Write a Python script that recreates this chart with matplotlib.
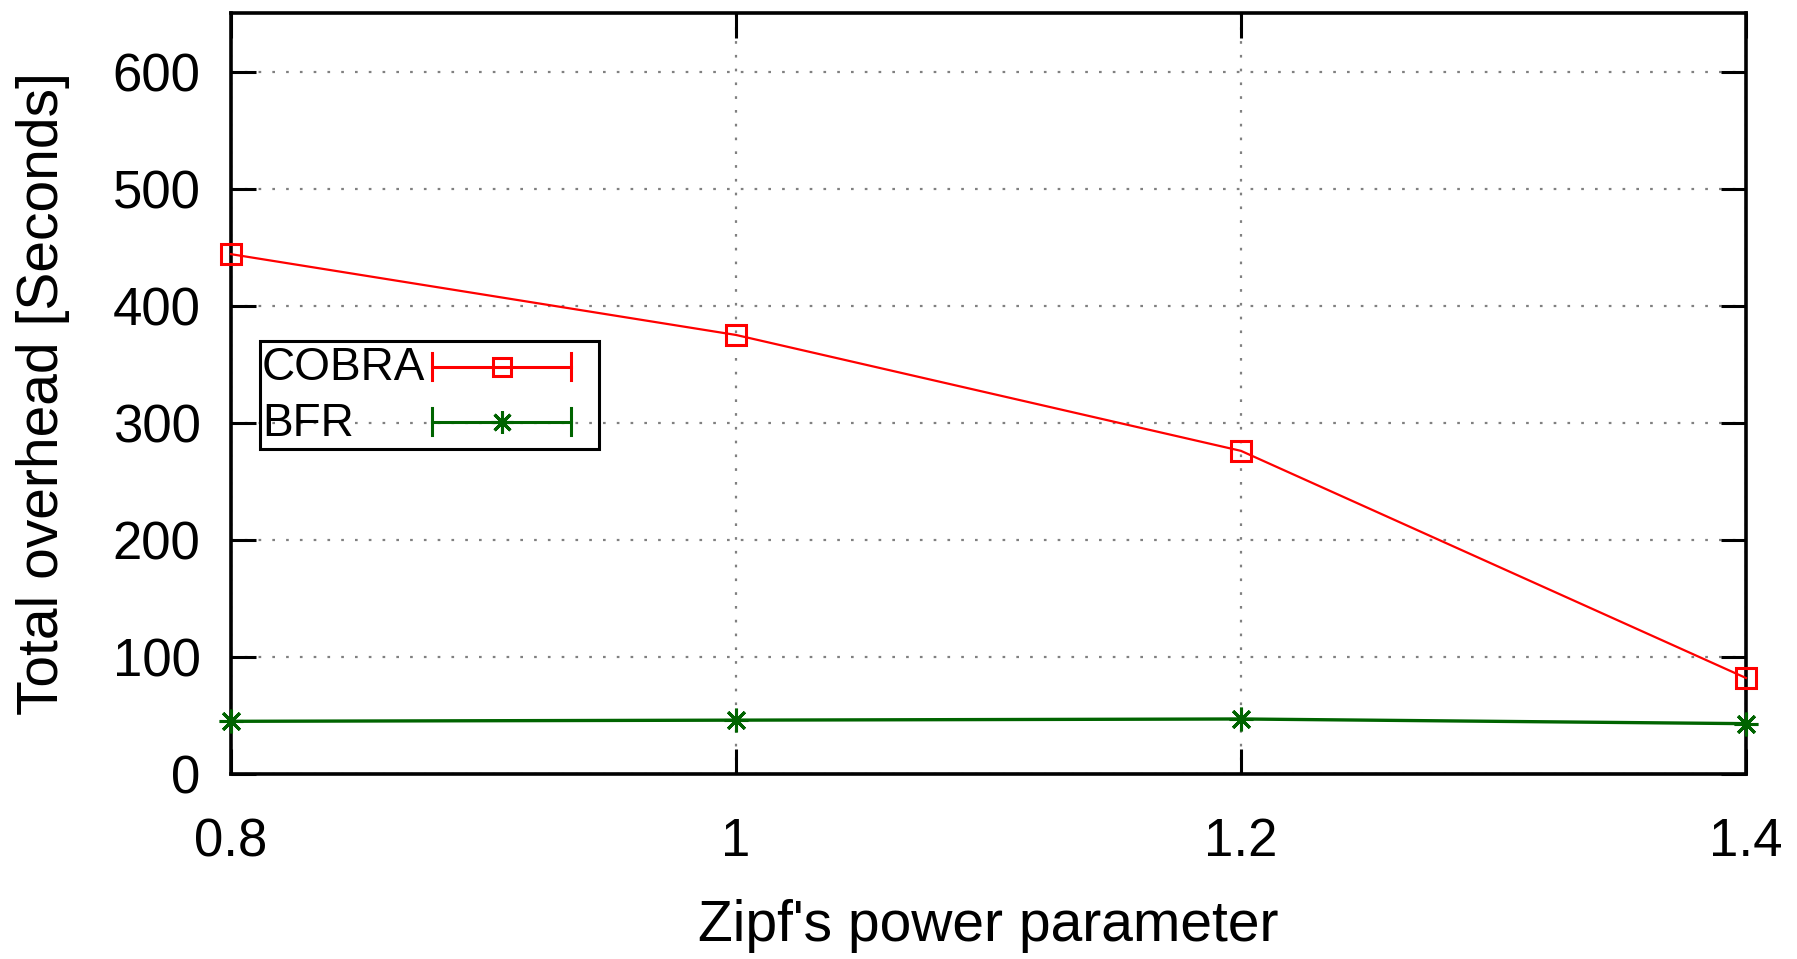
import matplotlib
matplotlib.use("Agg")
import matplotlib.pyplot as plt
from matplotlib.lines import Line2D
from matplotlib.patches import Rectangle

zipf = [0.8, 1.0, 1.2, 1.4]
cobra = [444, 375, 276, 82]
bfr = [45, 46, 47, 43]
xtick_labels = ["0.8", "1", "1.2", "1.4"]
yticks = [0, 100, 200, 300, 400, 500, 600]
series_names = ["COBRA", "BFR"]

plt.rcParams['font.family'] = ['Liberation Sans', 'DejaVu Sans']

W, H = 1797, 959
fig = plt.figure(figsize=(W / 100, H / 100), dpi=100)
ax = fig.add_axes([231 / W, 1 - 774 / H, (1746 - 231) / W, (774 - 13) / H])

red = '#ff0000'
green = '#006400'
sq = 's'
star = (8, 2, 0)

ax.plot(zipf, cobra, color=red, lw=1.6, marker=sq, ms=14, mfc='none',
        mec=red, mew=2.2, clip_on=False, zorder=3)
ax.plot(zipf, bfr, color=green, lw=2.4, marker=star, ms=17,
        mec=green, mew=2.2, clip_on=False, zorder=3)

ax.set_xlim(0.8, 1.4)
ax.set_ylim(0, 650)
ax.set_xticks(zipf)
ax.set_xticklabels(xtick_labels)
ax.set_yticks(yticks)

ax.grid(True, color='#808080', linestyle=(0, (1.2, 5)), lw=1.6)
for s in ax.spines.values():
    s.set_linewidth(2.6)
ax.tick_params(direction='in', length=18, width=2.2, labelsize=38,
               top=True, right=True)
ax.tick_params(axis='x', pad=31)
ax.tick_params(axis='y', pad=22)

ax.set_xlabel("Zipf's power parameter", fontsize=41, labelpad=23)
ax.set_ylabel("Total overhead [Seconds]", fontsize=41, labelpad=31)

# key box with error-bar style samples
px = lambda x, y: (x / W, 1 - y / H)
fig.patches.append(Rectangle(px(260, 449), (599 - 260) / W, (449 - 341) / H,
                             transform=fig.transFigure, fill=False,
                             edgecolor='black', lw=2.2, zorder=5))
rows = [(366.5, red, sq, dict(mfc='none'), 13), (421.5, green, star, {}, 16)]
for name, (yy, col, mk, kw, ms) in zip(series_names, rows):
    fig.text(*px(262, yy - 3), name, fontsize=33, ha='left', va='center_baseline')
    x0, x1 = 432, 571
    fig.add_artist(Line2D([x0 / W, x1 / W], [1 - yy / H] * 2, color=col,
                          lw=2.2, transform=fig.transFigure))
    for xc in (x0, x1):
        fig.add_artist(Line2D([xc / W] * 2, [1 - (yy - 13.5) / H, 1 - (yy + 13.5) / H],
                              color=col, lw=2.2, transform=fig.transFigure))
    fig.add_artist(Line2D([502 / W], [1 - yy / H], marker=mk, ms=ms, mec=col,
                          mew=2.2, color=col, linestyle='none',
                          transform=fig.transFigure, **kw))

fig.savefig("out.png", dpi=100)
